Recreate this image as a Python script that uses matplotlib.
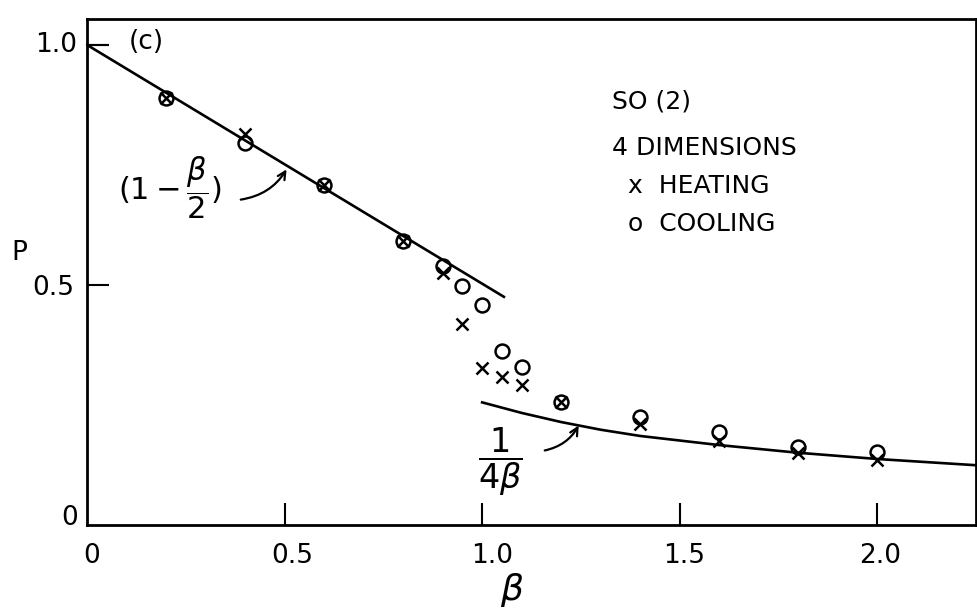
import matplotlib.pyplot as plt
from matplotlib.patches import FancyArrowPatch

# heating (x) and cooling (o) data
beta_heat = [0.2, 0.4, 0.6, 0.8, 0.9, 0.95, 1.0, 1.05, 1.1, 1.2, 1.4, 1.6, 1.8, 2.0]
p_heat = [0.89, 0.814, 0.708, 0.592, 0.524, 0.418, 0.326, 0.307, 0.292, 0.255, 0.21, 0.174, 0.15, 0.134]
beta_cool = [0.2, 0.4, 0.6, 0.8, 0.9, 0.95, 1.0, 1.05, 1.1, 1.2, 1.4, 1.6, 1.8, 2.0]
p_cool = [0.89, 0.795, 0.708, 0.592, 0.539, 0.497, 0.457, 0.363, 0.329, 0.255, 0.225, 0.193, 0.163, 0.152]

# the two drawn curves (1 - beta/2) and 1/(4 beta)
beta_low = [0.0, 1.055]
p_low = [1.0, 0.475]
beta_high = [1.0, 1.1, 1.2, 1.3, 1.4, 1.6, 1.8, 2.0, 2.25]
p_high = [0.255, 0.233, 0.214, 0.198, 0.185, 0.166, 0.15, 0.137, 0.124]

xticks = [0.5, 1.0, 1.5, 2.0]
yticks = [0.5, 1.0]

plt.rcParams['font.family'] = ['DejaVu Sans']
plt.rcParams['mathtext.fontset'] = 'dejavusans'

fig = plt.figure(figsize=(9.78, 6.13), dpi=100)
ax = fig.add_axes([0.089, 0.144, 0.909, 0.825])

ax.plot(beta_low, p_low, color='black', lw=1.9)
ax.plot(beta_high, p_high, color='black', lw=1.9)
ax.plot(beta_cool, p_cool, 'o', mfc='none', mec='black', mew=1.8, ms=10)
ax.plot(beta_heat, p_heat, 'x', color='black', mew=1.8, ms=8)

ax.set_xlim(0, 2.25)
ax.set_ylim(0, 1.054)
ax.set_xticks(xticks)
ax.set_yticks(yticks)
ax.set_xticklabels([])
ax.set_yticklabels([])
ax.tick_params(direction='in', length=16, width=1.5)
for s in ax.spines.values():
    s.set_linewidth(2.0)

# tick labels drawn as text, in figure pixels like the scan
def figtext(x, y, s, **kw):
    fig.text(x / 978, 1 - y / 613, s, **kw)

for lab, x in zip(['0', '0.5', '1.0', '1.5', '2.0'], [92, 292, 492, 684, 880]):
    figtext(x, 556, lab, fontsize=19, ha='center', va='center')
figtext(56, 45, '1.0', fontsize=19, ha='center', va='center')
figtext(53, 288, '0.5', fontsize=19, ha='center', va='center')
figtext(70, 518, '0', fontsize=19, ha='center', va='center')
figtext(19, 253, 'P', fontsize=19, ha='center', va='center')
figtext(512, 590, r'$\beta$', fontsize=26, ha='center', va='center')

figtext(146, 42, '(c)', fontsize=19, ha='center', va='center')
ax.plot([0.0, 0.05], [1.0, 1.0], color='black', lw=1.5, clip_on=False)

figtext(612, 102, 'SO (2)', fontsize=18, ha='left', va='center')
figtext(612, 148, '4 DIMENSIONS', fontsize=18, ha='left', va='center')
figtext(628, 186, 'x  HEATING', fontsize=18, ha='left', va='center')
figtext(628, 224, 'o  COOLING', fontsize=18, ha='left', va='center')

figtext(170, 188, r'$(1-\dfrac{\beta}{2})$', fontsize=22, ha='center', va='center')
figtext(500, 462, r'$\dfrac{1}{4\beta}$', fontsize=24, ha='center', va='center')

arr1 = FancyArrowPatch((238 / 978, 1 - 200 / 613), (288 / 978, 1 - 167 / 613),
                       transform=fig.transFigure, connectionstyle='arc3,rad=0.25',
                       arrowstyle='->', mutation_scale=14, lw=1.6, color='black')
arr2 = FancyArrowPatch((542 / 978, 1 - 451 / 613), (580 / 978, 1 - 423 / 613),
                       transform=fig.transFigure, connectionstyle='arc3,rad=0.25',
                       arrowstyle='->', mutation_scale=14, lw=1.6, color='black')
fig.patches.extend([arr1, arr2])

fig.savefig('out.png', dpi=100)
